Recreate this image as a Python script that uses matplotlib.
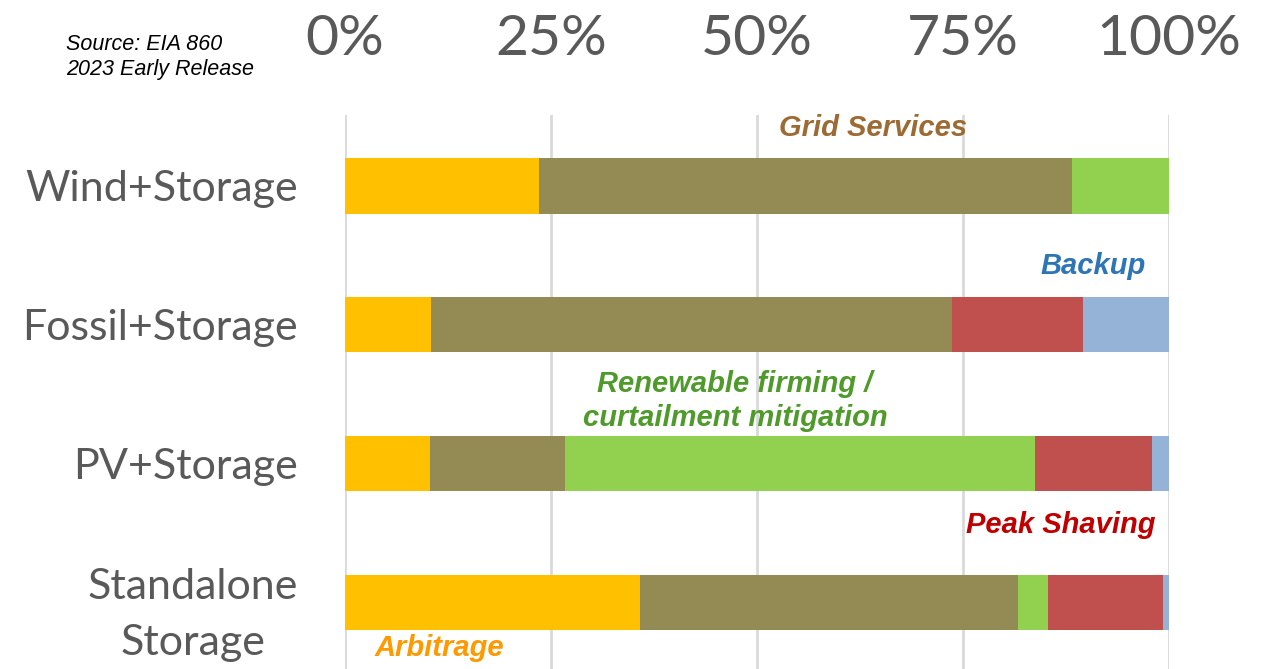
import numpy as np
import matplotlib.pyplot as plt

# shares of storage capacity by primary use (%)
categories = ["Wind+Storage", "Fossil+Storage", "PV+Storage", "Standalone\nStorage"]
arbitrage = [23.5, 10.4, 10.3, 35.8]
grid_services = [64.7, 63.3, 16.4, 45.9]
renewable_firming = [11.8, 0.0, 57.0, 3.6]
peak_shaving = [0.0, 15.9, 14.2, 14.0]
backup = [0.0, 10.4, 2.1, 0.7]

tick_values = [0, 25, 50, 75, 100]
tick_labels = ["0%", "25%", "50%", "75%", "100%"]

series = [arbitrage, grid_services, renewable_firming, peak_shaving, backup]
colors = ["#FFC000", "#948A54", "#92D050", "#C0504D", "#95B3D7"]


def main() -> None:
    fig = plt.figure(figsize=(12.66, 6.69), dpi=100)
    ax = fig.add_axes([0.2725, 0.0, 0.651, 0.828])

    y = np.arange(len(categories))
    left = np.zeros(len(categories))
    for vals, col in zip(series, colors):
        ax.barh(y, vals, left=left, height=0.4, color=col, zorder=2)
        left += np.array(vals)

    ax.set_xlim(0, 100)
    ax.set_ylim(3.48, -0.51)

    # percent ticks on top, big grey text
    ax.xaxis.tick_top()
    ax.set_xticks(tick_values)
    ax.set_xticklabels(tick_labels, fontsize=41, color="#595959", family="Lato")
    ax.tick_params(axis="x", length=0, pad=36)
    ax.set_yticks(y)
    ax.set_yticklabels(categories, fontsize=31, color="#595959", family="Lato",
                       linespacing=1.58, multialignment="center")
    ax.tick_params(axis="y", length=0, pad=34)

    for s in ax.spines.values():
        s.set_visible(False)
    ax.xaxis.grid(True, color="#D9D9D9", linewidth=2, zorder=0)
    ax.set_axisbelow(True)

    # category annotations
    lbl = dict(fontsize=21, fontweight="bold", style="italic",
               family="Liberation Sans", ha="center", va="center")
    ax.text(64.1, -0.42, "Grid Services", color="#9C6A32", **lbl)
    ax.text(90.8, 0.58, "Backup", color="#2E75B6", **lbl)
    ax.text(47.3, 1.55, "Renewable firming /\ncurtailment mitigation",
            color="#4E9A2A", linespacing=1.25, **lbl)
    ax.text(86.9, 2.44, "Peak Shaving", color="#C00000", **lbl)
    ax.text(11.5, 3.33, "Arbitrage", color="#FF9900", **lbl)

    fig.text(66 / 1266, 1 - 44 / 669, "Source: EIA 860", fontsize=15.5,
             style="italic", family="Liberation Sans", va="center")
    fig.text(66 / 1266, 1 - 70 / 669, "2023 Early Release", fontsize=15.5,
             style="italic", family="Liberation Sans", va="center")

    fig.savefig("out.png", dpi=100)
    plt.close(fig)


if __name__ == '__main__':
    main()
